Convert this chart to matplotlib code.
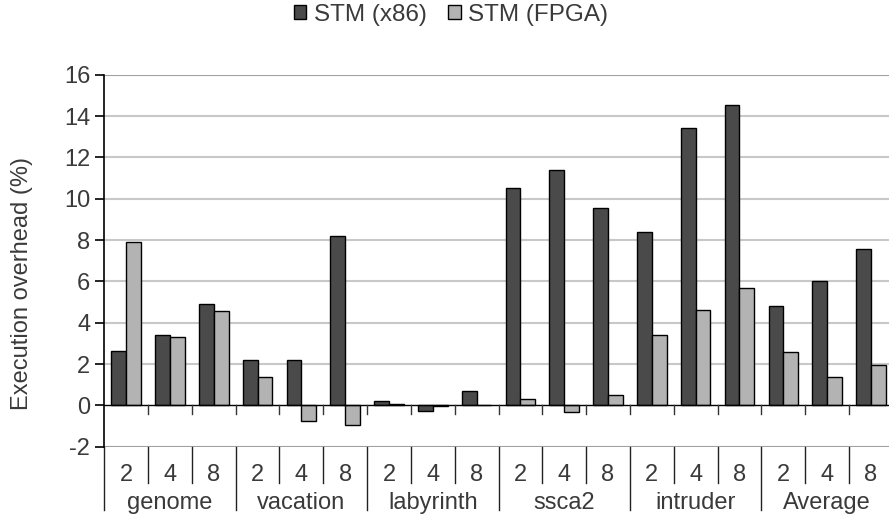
import numpy as np
import matplotlib
matplotlib.use('Agg')
import matplotlib.pyplot as plt

plt.rcParams['font.family'] = ['Liberation Sans', 'DejaVu Sans']

# Daten
benchmarks = ['genome', 'vacation', 'labyrinth', 'ssca2', 'intruder', 'Average']
threads = ['2', '4', '8']
stm_x86 = [2.65, 3.39, 4.90,
           2.19, 2.18, 8.18,
           0.21, -0.29, 0.69,
           10.53, 11.39, 9.56,
           8.37, 13.40, 14.55,
           4.79, 6.03, 7.56]
stm_fpga = [7.89, 3.32, 4.55,
            1.35, -0.74, -0.97,
            0.05, -0.03, 0.02,
            0.31, -0.34, 0.50,
            3.39, 4.61, 5.66,
            2.60, 1.37, 1.97]
yticks = [-2, 0, 2, 4, 6, 8, 10, 12, 14, 16]

text_col = '#3a3a3a'
fs = 17
fig = plt.figure(figsize=(8.89, 5.2), dpi=100)
ax = fig.add_axes([0.1173, 0.141, 0.8869, 0.7154])

n = len(stm_x86)
x = np.arange(n)
w = 0.336
ax.bar(x + 0.5 - w / 2, stm_x86, w, color='#4a4a4a', edgecolor='black', linewidth=1, label='STM (x86)', zorder=3)
ax.bar(x + 0.5 + w / 2, stm_fpga, w, color='#b3b3b3', edgecolor='black', linewidth=1, label='STM (FPGA)', zorder=3)

ax.set_xlim(0, n)
ax.set_ylim(-2, 16)
ax.set_yticks(yticks)
ax.set_yticklabels([str(t) for t in yticks])
ax.set_xticks([])

# Gitterlinien
for t in yticks:
    if t == 0:
        continue
    col = '#a0a0a0' if t in (-2, 16) else '#c8c8c8'
    ax.axhline(t, color=col, linewidth=1.5, zorder=1)
ax.axhline(0, color='black', linewidth=1, zorder=4)

for s in ['top', 'right', 'bottom']:
    ax.spines[s].set_visible(False)
ax.spines['left'].set_linewidth(1.2)
ax.tick_params(axis='y', direction='out', length=6.5, width=1.2, pad=3.6,
               labelsize=fs, labelcolor=text_col)

# kleine Striche an der Nulllinie
for i in range(1, n):
    ax.plot([i, i], [0, -0.42], color='#333333', linewidth=1, clip_on=False, zorder=4)

# Trennlinien und Beschriftung unter der Achse
for i in range(n + 1):
    bottom = -5.06 if i % 3 == 0 else -3.74
    ax.plot([i, i], [-2, bottom], color='#222222', linewidth=1, clip_on=False)
for i in range(n):
    ax.text(i + 0.5, -3.38, threads[i % 3], ha='center', va='center',
            fontsize=fs, color=text_col, clip_on=False)
for g, name in enumerate(benchmarks):
    ax.text(3 * g + 1.5, -4.72, name, ha='center', va='center',
            fontsize=fs, color=text_col, clip_on=False)

fig.text(22.5 / 889, 1 - 283 / 520, 'Execution overhead (%)', rotation=90,
         ha='center', va='center', fontsize=fs, color=text_col)

fig.legend(loc='center', bbox_to_anchor=(451 / 889, 1 - 15 / 520), ncol=2,
           frameon=False, fontsize=17.5, handlelength=0.5, handleheight=0.5,
           handletextpad=0.3, columnspacing=0.9, labelcolor=text_col)

plt.savefig('out.png', dpi=100)
